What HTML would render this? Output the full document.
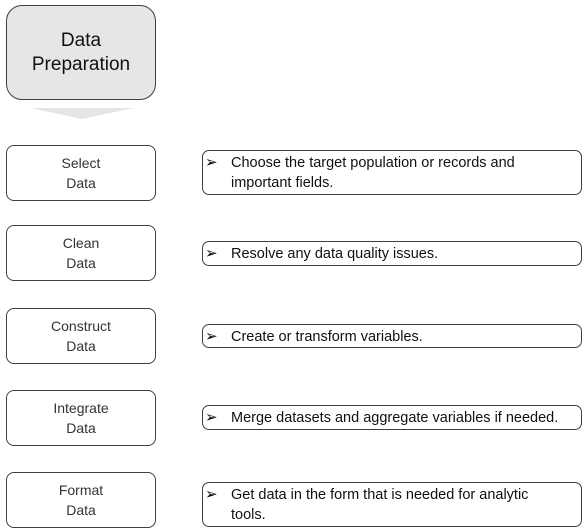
<!DOCTYPE html>
<html><head><style>
body{margin:0;width:587px;height:531px;background:#fff;font-family:"Liberation Sans",sans-serif;position:relative;overflow:hidden}
.b{position:absolute;box-sizing:border-box;border:1px solid #404040;background:#fff}
.l{left:6px;width:150px;height:56px;border-radius:8px;display:flex;align-items:center;justify-content:center;text-align:center;font-size:14px;line-height:20px;color:#333}
.r{left:202px;width:380px;border-radius:7px;font-size:14.5px;line-height:20px;color:#111;padding:2px 4px 2px 28px;white-space:nowrap}
.r:before{content:"➢";position:absolute;left:2px;top:1px;font-family:"DejaVu Sans",sans-serif;font-size:15px;color:#000}
</style></head><body>
<div class="b" style="left:6px;top:5px;width:150px;height:95px;border-radius:16px;background:#e6e6e6;display:flex;align-items:center;justify-content:center;text-align:center;font-size:19px;line-height:24px;color:#111">Data<br>Preparation</div>
<svg style="position:absolute;left:0;top:0" width="587" height="531"><polygon points="30,108 134,108 82,119" fill="#e6e6e6"/></svg>
<div class="b l" style="top:145px">Select<br>Data</div>
<div class="b l" style="top:225px">Clean<br>Data</div>
<div class="b l" style="top:308px">Construct<br>Data</div>
<div class="b l" style="top:390px">Integrate<br>Data</div>
<div class="b l" style="top:472px">Format<br>Data</div>
<div class="b r" style="top:150px;height:45px">Choose the target population or records and<br>important fields.</div>
<div class="b r" style="top:241px;height:25px">Resolve any data quality issues.</div>
<div class="b r" style="top:324px;height:24px">Create or transform variables.</div>
<div class="b r" style="top:405px;height:25px">Merge datasets and aggregate variables if needed.</div>
<div class="b r" style="top:482px;height:45px">Get data in the form that is needed for analytic<br>tools.</div>
</body></html>
